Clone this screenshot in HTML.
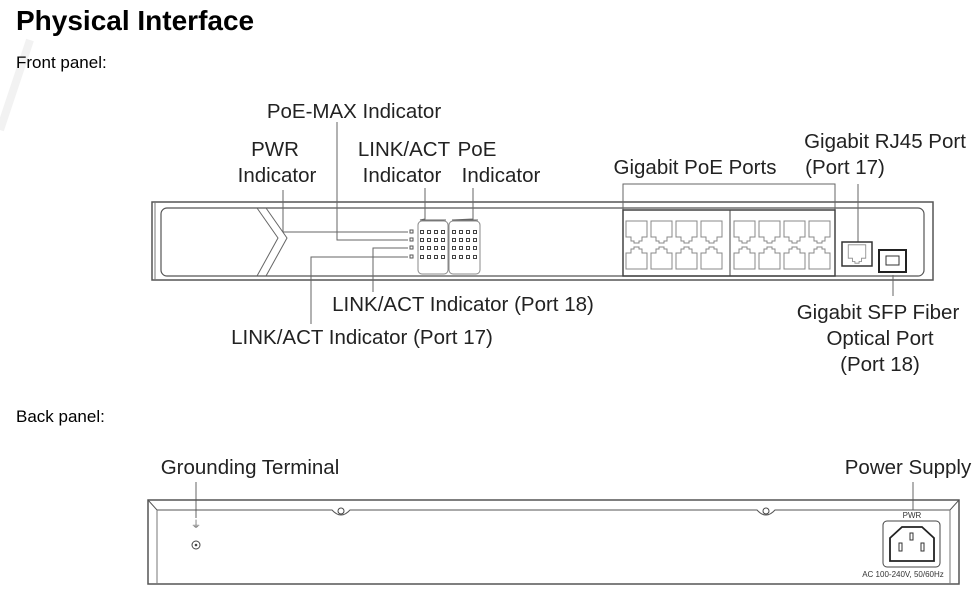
<!DOCTYPE html>
<html><head><meta charset="utf-8"><style>
html,body{margin:0;padding:0;background:#fff;}
svg{display:block;font-family:"Liberation Sans",sans-serif;}
</style></head><body>
<svg width="980" height="599" viewBox="0 0 980 599" xmlns="http://www.w3.org/2000/svg">
<defs>
<symbol id="pt" viewBox="0 0 23 24"><path d="M1 1H22V17H17V21H14V23H9V21H6V17H1Z" fill="none" stroke="#888" stroke-width="1"/></symbol>
<symbol id="pb" viewBox="0 0 23 24"><path d="M1 23H22V7H17V3H14V1H9V3H6V7H1Z" fill="none" stroke="#888" stroke-width="1"/></symbol>
</defs>
<path d="M0 130 L30 40" stroke="#f2f2f2" stroke-width="8"/>
<text x="16" y="30" font-size="28" font-weight="bold" fill="#000">Physical Interface</text>
<text x="16" y="68" font-size="17">Front panel:</text>
<g font-size="20.5" fill="#222">
<text x="354" y="118" text-anchor="middle">PoE-MAX Indicator</text>
<text x="275" y="156" text-anchor="middle">PWR</text>
<text x="277" y="182" text-anchor="middle">Indicator</text>
<text x="404" y="156" text-anchor="middle">LINK/ACT</text>
<text x="402" y="182" text-anchor="middle">Indicator</text>
<text x="477" y="156" text-anchor="middle">PoE</text>
<text x="501" y="182" text-anchor="middle">Indicator</text>
<text x="695" y="174" text-anchor="middle">Gigabit PoE Ports</text>
<text x="885" y="148" text-anchor="middle">Gigabit RJ45 Port</text>
<text x="845" y="174" text-anchor="middle">(Port 17)</text>
<text x="463" y="311" text-anchor="middle">LINK/ACT Indicator (Port 18)</text>
<text x="362" y="344" text-anchor="middle">LINK/ACT Indicator (Port 17)</text>
<text x="878" y="319" text-anchor="middle">Gigabit SFP Fiber</text>
<text x="880" y="345" text-anchor="middle">Optical Port</text>
<text x="880" y="371" text-anchor="middle">(Port 18)</text>
<text x="250" y="474" text-anchor="middle">Grounding Terminal</text>
<text x="908" y="474" text-anchor="middle">Power Supply</text>
</g>
<text x="16" y="422" font-size="17">Back panel:</text>
<rect x="152" y="202" width="781" height="78" fill="none" stroke="#555" stroke-width="1.5"/>
<line x1="155" y1="202" x2="155" y2="280" stroke="#777"/>
<rect x="161" y="208" width="763" height="68" rx="6" fill="none" stroke="#555" stroke-width="1.2"/>
<polyline points="257,208 278,238 257,276" fill="none" stroke="#666"/>
<polyline points="266,208 287,238 266,276" fill="none" stroke="#666"/>
<g stroke="#666" fill="none" stroke-width="1">
<polyline points="283,190 283,232 408,232"/>
<polyline points="337,122 337,240 408,240"/>
<polyline points="373,292 373,248 408,248"/>
<polyline points="311,324 311,257 408,257"/>
<polyline points="425,188 425,219 420,220 446,220"/>
<polyline points="473,188 473,219 452,220 478,220"/>
<polyline points="623,210 623,184 835,184 835,210"/>
<polyline points="858,184 858,242"/>
<line x1="893" y1="275" x2="893" y2="296"/>
<line x1="196" y1="482" x2="196" y2="518"/>
<line x1="913" y1="482" x2="913" y2="510"/>
</g>
<rect x="418" y="221" width="30" height="53" rx="4" fill="none" stroke="#888"/>
<rect x="449" y="221" width="31" height="53" rx="4" fill="none" stroke="#888"/>
<g fill="none" stroke="#555" stroke-width="1">
<rect x="410" y="230" width="3" height="3"/><rect x="410" y="238" width="3" height="3"/><rect x="410" y="246" width="3" height="3"/><rect x="410" y="255" width="3" height="3"/>
</g>
<g fill="none" stroke="#444" stroke-width="1">
<g id="ledc"><rect x="420.5" y="230.5" width="3" height="3"/><rect x="420.5" y="238.5" width="3" height="3"/><rect x="420.5" y="246.5" width="3" height="3"/><rect x="420.5" y="255.5" width="3" height="3"/></g>
<use href="#ledc" x="7"/><use href="#ledc" x="14"/><use href="#ledc" x="21"/>
<use href="#ledc" x="32"/><use href="#ledc" x="39"/><use href="#ledc" x="46"/><use href="#ledc" x="53"/>
</g>
<rect x="623" y="210" width="212" height="66" fill="none" stroke="#444" stroke-width="1.5"/>
<line x1="730" y1="210" x2="730" y2="276" stroke="#444"/>
<g>
<use href="#pt" x="625" y="220" width="23" height="24"/><use href="#pt" x="650" y="220" width="23" height="24"/><use href="#pt" x="675" y="220" width="23" height="24"/><use href="#pt" x="700" y="220" width="23" height="24"/>
<use href="#pt" x="733" y="220" width="23" height="24"/><use href="#pt" x="758" y="220" width="23" height="24"/><use href="#pt" x="783" y="220" width="23" height="24"/><use href="#pt" x="808" y="220" width="23" height="24"/>
<use href="#pb" x="625" y="246" width="23" height="24"/><use href="#pb" x="650" y="246" width="23" height="24"/><use href="#pb" x="675" y="246" width="23" height="24"/><use href="#pb" x="700" y="246" width="23" height="24"/>
<use href="#pb" x="733" y="246" width="23" height="24"/><use href="#pb" x="758" y="246" width="23" height="24"/><use href="#pb" x="783" y="246" width="23" height="24"/><use href="#pb" x="808" y="246" width="23" height="24"/>
</g>
<rect x="842" y="242" width="30" height="24" fill="none" stroke="#333" stroke-width="1.5"/>
<use href="#pt" x="846" y="244" width="22" height="20"/>
<rect x="879" y="250" width="27" height="22" fill="none" stroke="#222" stroke-width="2"/>
<rect x="886" y="256" width="13" height="9" fill="none" stroke="#333"/>
<path d="M148 500 H959 V584 H148 Z" fill="none" stroke="#555" stroke-width="1.5"/>
<path d="M148 500 L157 510 H332 Q341 520 350 510 H757 Q766 520 775 510 H950 L959 500" fill="none" stroke="#555"/>
<line x1="157" y1="510" x2="157" y2="584" stroke="#777"/>
<line x1="950" y1="510" x2="950" y2="584" stroke="#777"/>
<circle cx="341" cy="511" r="3" fill="none" stroke="#444"/>
<circle cx="766" cy="511" r="3" fill="none" stroke="#444"/>
<text x="196" y="528" font-size="10" text-anchor="middle" fill="#555">⏚</text>
<circle cx="196" cy="545" r="4" fill="none" stroke="#444"/>
<circle cx="196" cy="545" r="1.3" fill="#444"/>
<text x="912" y="518" font-size="8" text-anchor="middle" fill="#333">PWR</text>
<rect x="883" y="521" width="57" height="46" rx="4" fill="none" stroke="#444"/>
<path d="M890 538 L902 527 H922 L934 538 V561 H890 Z" fill="none" stroke="#222" stroke-width="1.8"/>
<rect x="910" y="533" width="3" height="7" fill="none" stroke="#333"/>
<rect x="899" y="543" width="3" height="8" fill="none" stroke="#333"/>
<rect x="921" y="543" width="3" height="8" fill="none" stroke="#333"/>
<text x="903" y="577" font-size="8" text-anchor="middle" fill="#333">AC 100-240V, 50/60Hz</text>
</svg>
</body></html>
